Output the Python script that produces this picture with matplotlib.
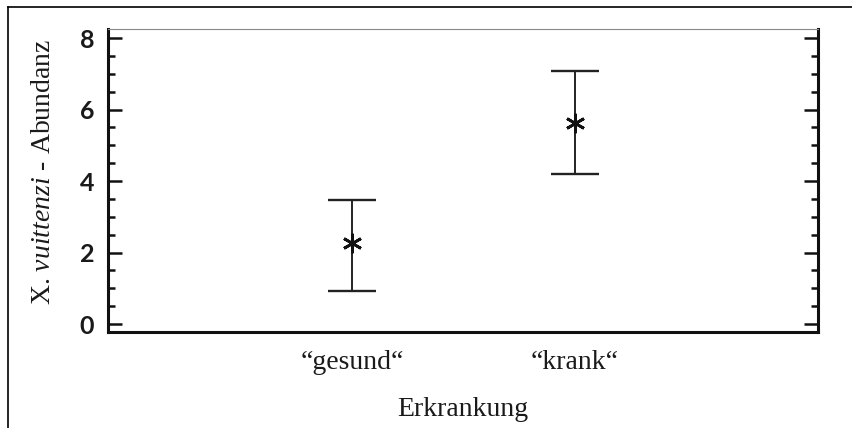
import matplotlib
matplotlib.use("Agg")
import matplotlib.pyplot as plt
from matplotlib.lines import Line2D
from matplotlib.ticker import MultipleLocator

categories = ["\u201cgesund\u201c", "\u201ckrank\u201c"]
means = [2.27, 5.62]
lower = [0.92, 4.20]
upper = [3.47, 7.08]
yticks = [0, 2, 4, 6, 8]

plt.rcParams['mathtext.fontset'] = 'custom'
plt.rcParams['mathtext.it'] = 'Liberation Serif:italic'
plt.rcParams['mathtext.rm'] = 'Liberation Serif'

txt = '#1a1a1a'
fig = plt.figure(figsize=(8.52, 4.28), dpi=100)
ax = fig.add_axes([0.1268, 0.2243, 0.8332, 0.7077])

x = [1, 2]
err_lo = [m - l for m, l in zip(means, lower)]
err_hi = [u - m for m, u in zip(means, upper)]
ax.errorbar(x, means, yerr=[err_lo, err_hi], fmt='none', ecolor='#222222',
            elinewidth=1.4, capsize=17, capthick=1.7)
ax.plot(x, means, linestyle='none', marker=(6, 2, 0), markersize=14,
        markeredgewidth=2.0, color='#111111')

ax.set_xlim(-0.093, 3.088)
ax.set_ylim(-0.22, 8.25)
ax.set_xticks(x)
ax.set_xticklabels(categories, fontsize=20, family='Liberation Serif', color=txt)
ax.tick_params(axis='x', length=0, pad=13)
ax.set_yticks(yticks)
ax.set_yticklabels([str(v) for v in yticks], fontsize=18, family='Lato',
                   fontweight='bold', color=txt)
ax.yaxis.set_minor_locator(MultipleLocator(0.5))
ax.tick_params(axis='y', which='major', direction='in', length=10, width=1.8,
               left=True, right=True, color='#111111', pad=10)
ax.tick_params(axis='y', which='minor', direction='in', length=5, width=1.8,
               left=True, right=True, color='#111111')

for side in ['left', 'right', 'bottom']:
    ax.spines[side].set_linewidth(2.2)
    ax.spines[side].set_color('#111111')
ax.spines['top'].set_linewidth(0.8)
ax.spines['top'].set_color('#888888')

ax.set_xlabel('Erkrankung', fontsize=20, family='Liberation Serif', labelpad=16, color=txt)
ax.set_ylabel(r'X. $\mathit{vuittenzi}$ - Abundanz', fontsize=20,
              family='Liberation Serif', color=txt)
ax.yaxis.set_label_coords(-0.074, 0.53)

fig.add_artist(Line2D([8/852, 1.0], [1 - 7/428, 1 - 7/428], transform=fig.transFigure,
                      color='black', linewidth=1.2))
fig.add_artist(Line2D([8/852, 8/852], [0.0, 1 - 7/428], transform=fig.transFigure,
                      color='black', linewidth=1.2))

fig.savefig('out.png', dpi=100)
